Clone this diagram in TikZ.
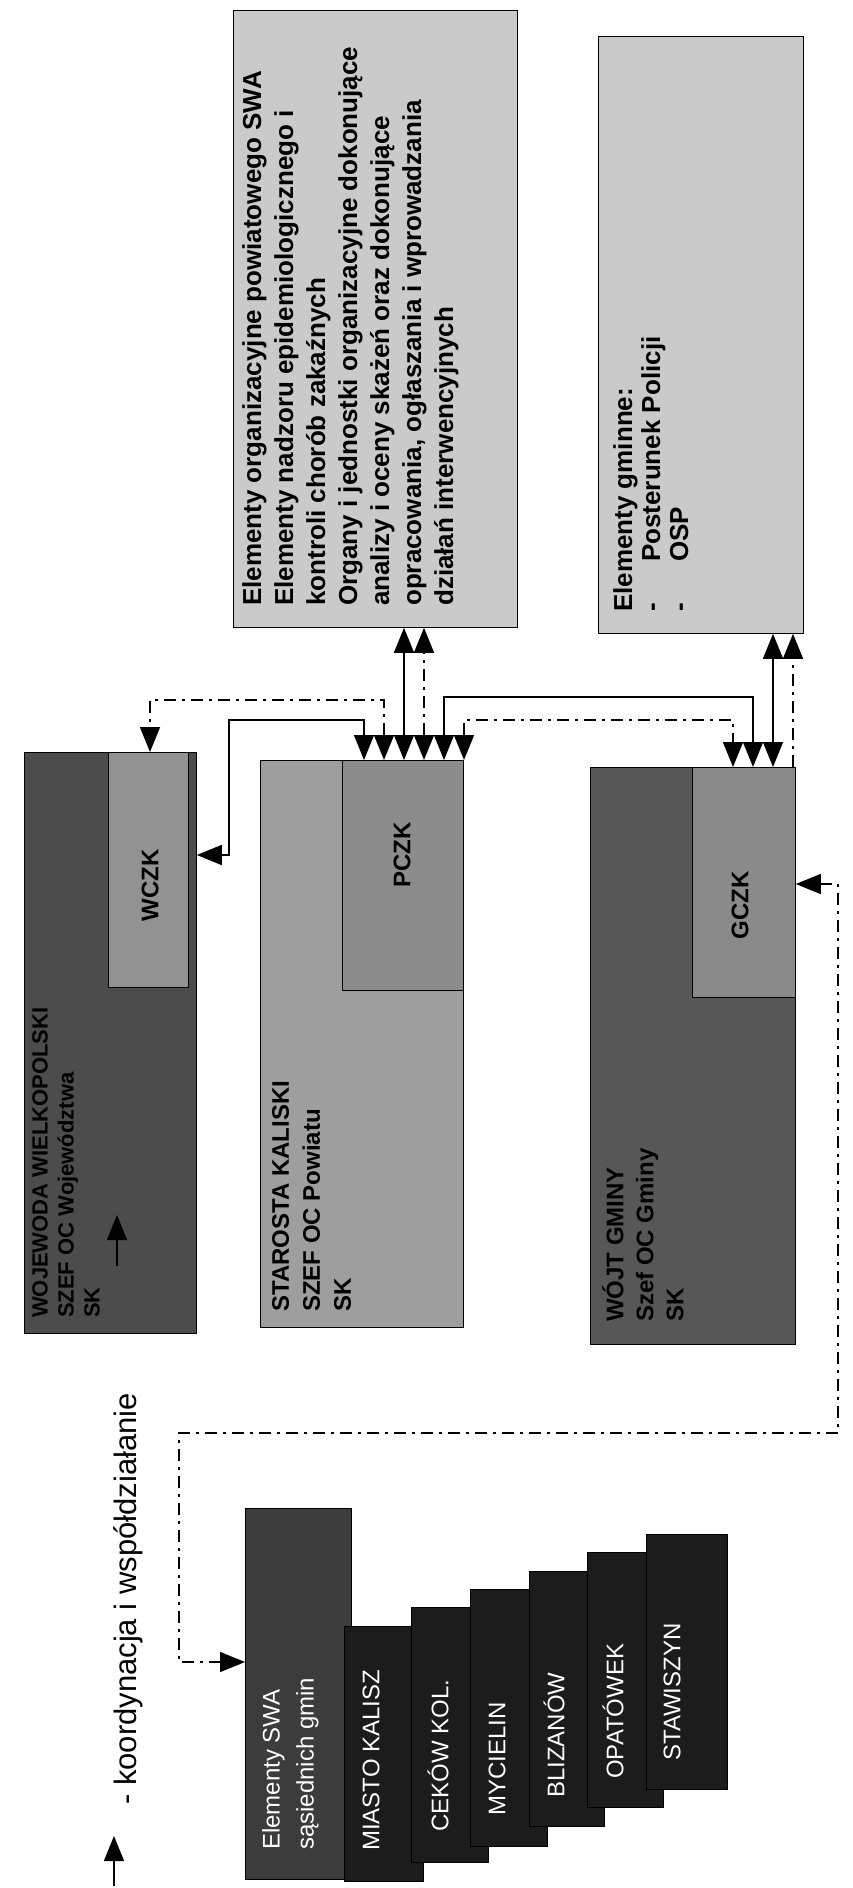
\documentclass[tikz,border=0pt]{standalone}
\usepackage{fontspec}
\setmainfont{Liberation Sans}
\usetikzlibrary{arrows.meta}
\definecolor{boxlight}{HTML}{CACACA}
\definecolor{wojfill}{HTML}{4C4C4C}
\definecolor{wczkfill}{HTML}{929292}
\definecolor{stafill}{HTML}{9E9E9E}
\definecolor{pczkfill}{HTML}{8C8C8C}
\definecolor{wojtfill}{HTML}{575757}
\definecolor{gczkfill}{HTML}{8A8A8A}
\definecolor{stackgray}{HTML}{3C3C3C}
\definecolor{stackblack}{HTML}{1C1C1C}
\tikzset{mytip/.tip={Triangle[width=20pt,length=25pt]}}
\begin{document}
\begin{tikzpicture}[x=1pt,y=-1pt,
  box/.style={draw=black, line width=0.8pt, inner sep=0pt, anchor=north west},
  lbl/.style={rotate=90, inner sep=0pt, align=left, anchor=north west},
  bt/.style={font=\fontsize{24}{29}\selectfont\bfseries},
  st/.style={font=\fontsize{24}{34}\selectfont, text=white},
  ln/.style={line width=1.5pt},
  dd/.style={line width=1.5pt, dash pattern=on 12pt off 6pt on 3pt off 6pt},
  both/.style={arrows={mytip-mytip}},
  fwd/.style={arrows={-mytip}}]
\useasboundingbox (0,0) rectangle (852,1888);
\fill[white] (0,0) rectangle (852,1888);

% upper element boxes
\node[box, fill=boxlight, minimum width=284pt, minimum height=617pt] (boxA) at (233,10) {};
\node[box, fill=boxlight, minimum width=205pt, minimum height=597pt] (boxB) at (598,36) {};

% authority boxes
\node[box, fill=wojfill, minimum width=172pt, minimum height=581pt] (woj) at (24,752) {};
\node[box, fill=wczkfill, minimum width=80pt, minimum height=235pt] (wczk) at (108,752) {};
\node[box, fill=stafill, minimum width=203pt, minimum height=567pt] (sta) at (260,760) {};
\node[box, fill=pczkfill, minimum width=121pt, minimum height=230pt] (pczk) at (342,760) {};
\node[box, fill=wojtfill, minimum width=205pt, minimum height=577pt] (wojt) at (590,767) {};
\node[box, fill=gczkfill, minimum width=103pt, minimum height=230pt] (gczk) at (692,767) {};

% neighbouring gminas
\node[box, fill=stackgray, minimum width=106pt, minimum height=371pt] (n0) at (245,1508) {};
\node[box, fill=stackblack, minimum width=79pt, minimum height=255pt] (n1) at (344,1626) {};
\node[box, fill=stackblack, minimum width=77pt, minimum height=255pt] (n2) at (411,1607) {};
\node[box, fill=stackblack, minimum width=77pt, minimum height=257pt] (n3) at (470,1589) {};
\node[box, fill=stackblack, minimum width=75pt, minimum height=255pt] (n4) at (529,1571) {};
\node[box, fill=stackblack, minimum width=76pt, minimum height=255pt] (n5) at (587,1552) {};
\node[box, fill=stackblack, minimum width=81pt, minimum height=255pt] (n6) at (646,1534) {};

% texts
\node[lbl, font=\fontsize{26}{32}\selectfont\bfseries] (tA) at (242,606) {Elementy organizacyjne powiatowego SWA\\Elementy nadzoru epidemiologicznego i\\kontroli chorób zakaźnych\\Organy i jednostki organizacyjne dokonujące\\analizy i oceny skażeń oraz dokonujące\\opracowania, ogłaszania i wprowadzania\\działań interwencyjnych};
\node[lbl, font=\fontsize{26}{28}\selectfont\bfseries] (tB) at (613,612) {Elementy gminne:\\\makebox[50pt][l]{-}Posterunek Policji\\\makebox[50pt][l]{-}OSP};

\node[lbl, font=\fontsize{22}{26}\selectfont\bfseries] (twoj) at (32,1318) {WOJEWODA WIELKOPOLSKI\\SZEF OC Województwa\\SK};
\node[lbl, font=\fontsize{24}{31}\selectfont\bfseries] (tsta) at (272,1312) {STAROSTA KALISKI\\SZEF OC Powiatu\\SK};
\node[lbl, font=\fontsize{24}{30}\selectfont\bfseries] (twojt) at (602,1322) {WÓJT GMINY\\Szef OC Gminy\\SK};

\node[rotate=90, inner sep=0pt, bt] (lw) at (150,885) {WCZK};
\node[rotate=90, inner sep=0pt, bt] (lp) at (402,855) {PCZK};
\node[rotate=90, inner sep=0pt, bt] (lg) at (740,905) {GCZK};

\node[lbl, st] (t0) at (262,1850) {Elementy SWA\\sąsiednich gmin};
\node[st, rotate=90, anchor=west, inner sep=0pt] (t1) at (371,1851) {MIASTO KALISZ};
\node[st, rotate=90, anchor=west, inner sep=0pt] (t2) at (438,1832) {CEKÓW KOL.};
\node[st, rotate=90, anchor=west, inner sep=0pt] (t3) at (497,1816) {MYCIELIN};
\node[st, rotate=90, anchor=west, inner sep=0pt] (t4) at (554,1798) {BLIZANÓW};
\node[st, rotate=90, anchor=west, inner sep=0pt] (t5) at (613,1779) {OPATÓWEK};
\node[st, rotate=90, anchor=west, inner sep=0pt] (t6) at (672,1761) {STAWISZYN};

% legend
\node[rotate=90, anchor=west, inner sep=0pt, font=\fontsize{31}{35}\selectfont] (leg) at (128,1805) {- koordynacja i współdziałanie};
\coordinate (legA) at (114,1886);
\coordinate (legB) at (114,1836);
\draw[ln, fwd] (legA) -- (legB);

% SK arrow in the voivode box
\coordinate (skA) at (117,1266);
\coordinate (skB) at (117,1215);
\draw[ln, fwd] (skA) -- (skB);

% connectors
\draw[ln, both] (woj.east |- 0,855) -| (229,720) -| (364,0 |- pczk.north);
\draw[dd, both] (384,0 |- pczk.north) |- (150,700) -- (150,0 |- woj.north);
\draw[ln, both] (404,0 |- pczk.north) -- (404,0 |- boxA.south);
\draw[dd, both] (424,0 |- pczk.north) -- (424,0 |- boxA.south);
\draw[ln, both] (444,0 |- pczk.north) |- (753,697) -- (753,0 |- gczk.north);
\draw[dd, both] (464,0 |- pczk.north) |- (733,720) -- (733,0 |- gczk.north);
\draw[ln, both] (773,0 |- gczk.north) -- (773,0 |- boxB.south);
\draw[dd, fwd] (793,0 |- gczk.north) -- (793,0 |- boxB.south);
\draw[dd, both] (gczk.east |- 0,884) -| (838,1433) -| (179,1662) -- (n0.west |- 0,1662);
\end{tikzpicture}
\end{document}
